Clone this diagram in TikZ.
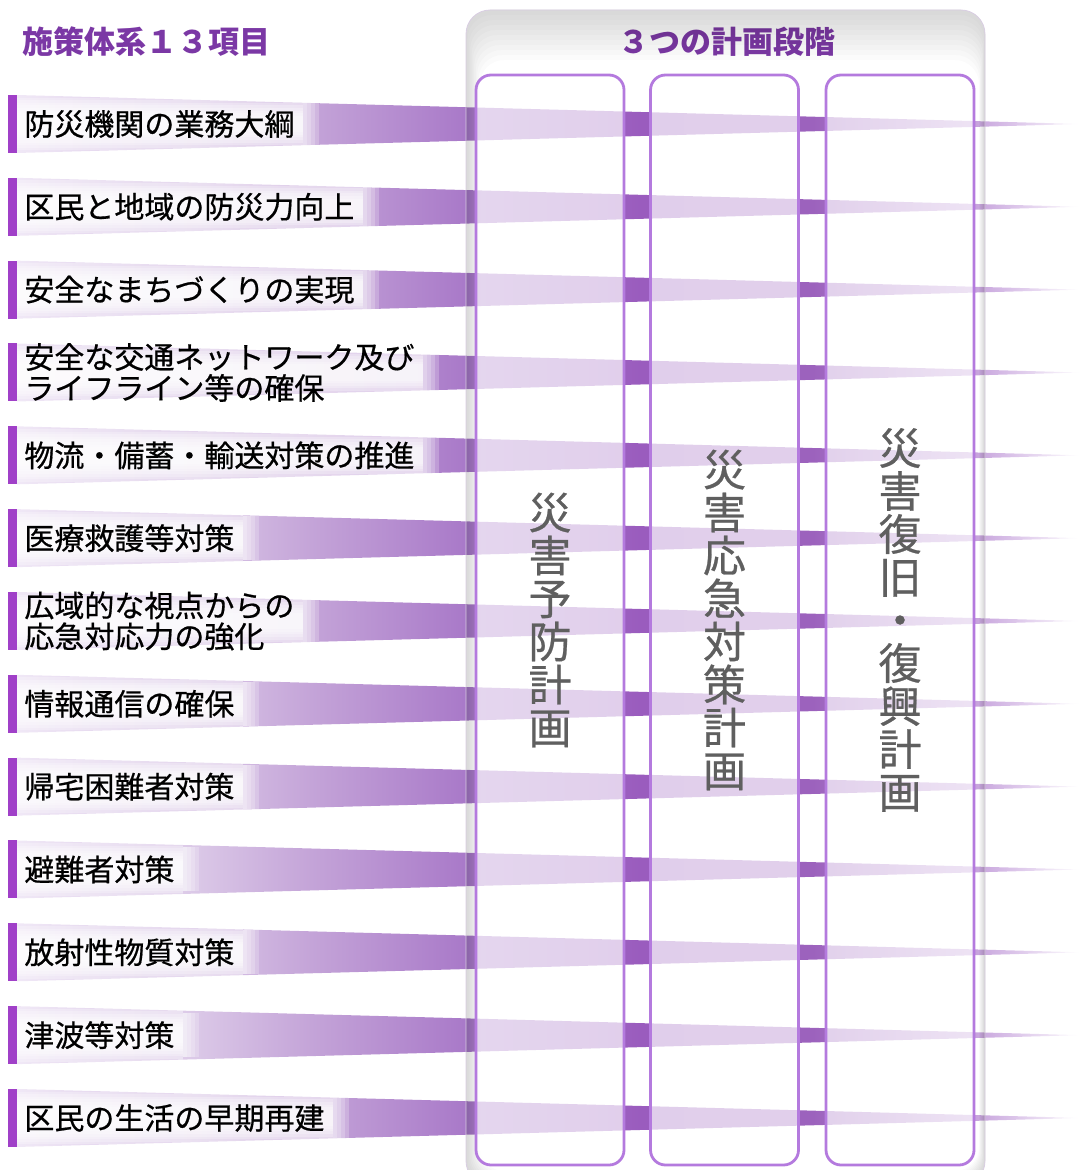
\documentclass[tikz,border=0pt]{standalone}
\usepackage{fontspec}
\setmainfont{Noto Sans CJK JP}
\newfontfamily\labelfont{Noto Sans CJK JP}[FakeBold=0.6]

\definecolor{titlepurple}{HTML}{7B38A5}
\definecolor{barpurple}{HTML}{A040C8}
\definecolor{colline}{HTML}{B47ADE}
\definecolor{panelline}{HTML}{D9CDE2}
\definecolor{vgray}{HTML}{5F5F5F}
\definecolor{bandA}{HTML}{F0E8F6}
\definecolor{bandA2}{HTML}{DCCAE8}
\definecolor{bandA3}{HTML}{C4A4D8}
\definecolor{bandB}{HTML}{A878C8}
\definecolor{bandC}{HTML}{9A5CBE}
\definecolor{bandD}{HTML}{9C62BD}
\definecolor{bandE}{HTML}{C6A2DC}

% x positions 17..1081 mapped on 25bp..75bp
\pgfdeclarehorizontalshading{bandshade}{100bp}{color(0bp)=(bandA); color(25bp)=(bandA);
  color(33.1bp)=(bandA2); color(38.8bp)=(bandA3); color(46.3bp)=(bandB);
  color(54.3bp)=(bandC); color(62.4bp)=(bandD); color(70bp)=(bandE);
  color(75bp)=(white); color(100bp)=(white)}

\pgfdeclarelayer{bands}
\pgfdeclarelayer{glow}
\pgfsetlayers{bands,glow,main}

\tikzset{
  titletext/.style={font=\bfseries\fontsize{15.5}{16}\selectfont, text=titlepurple, inner sep=0pt},
  itembar/.style={fill=barpurple},
  itemlabel/.style={anchor=west, align=left, inner sep=0pt, font=\labelfont\fontsize{15}{15.5}\selectfont},
  glowstrip/.style={fill=white, fill opacity=0.26},
  phasebox/.style={draw=colline, line width=1.4pt, rounded corners=7.5pt, fill=white,
    fill opacity=0.7, text opacity=1, text=vgray, align=center, inner sep=0pt,
    minimum width=74pt, minimum height=545pt, font=\labelfont\fontsize{21.5}{21.5}\selectfont},
}

\begin{document}
\begin{tikzpicture}[x=0.5pt, y=-0.5pt]
\useasboundingbox (0,0) rectangle (1081,1170);

% titles
\node[titletext, anchor=west] (systitle) at (22,42) {施策体系１３項目};
\node[titletext] (phasetitle) at (727,42) {３つの計画段階};

% the 13 items and their bands
\foreach \i/\txt in {1/防災機関の業務大綱, 2/区民と地域の防災力向上,
    3/安全なまちづくりの実現, 4/{安全な交通ネットワーク及び\\ライフライン等の確保},
    5/物流・備蓄・輸送対策の推進, 6/医療救護等対策,
    7/{広域的な視点からの\\応急対応力の強化}, 8/情報通信の確保,
    9/帰宅困難者対策, 10/避難者対策, 11/放射性物質対策,
    12/津波等対策, 13/区民の生活の早期再建}{
  \pgfmathsetmacro{\yc}{124+82.83*(\i-1)}
  \begin{pgfonlayer}{bands}
    \shade[shading=bandshade] (17,\yc-29) -- (1081,\yc) -- (17,\yc+29) -- cycle;
  \end{pgfonlayer}
  \fill[itembar] (8,\yc-29) rectangle (17,\yc+29);
  \node[itemlabel] (item\i) at (24,\yc) {\txt};
  \coordinate (gend\i) at ([xshift=4pt]item\i.east);
  \begin{pgfonlayer}{glow}
    \foreach \k in {1,...,8}{
      \coordinate (gbot) at (0,\yc+29-2.6*\k);
      \fill[glowstrip] (17,\yc-29+2.6*\k) rectangle (gend\i |- gbot);
    }
    % soft right edge
    \foreach \j in {1,...,4}{
      \coordinate (gtop) at ([xshift=\j*2pt]gend\i |- 0,\yc-22);
      \coordinate (gbot) at (0,\yc+22);
      \fill[white, fill opacity=0.22] (gend\i |- gtop) rectangle (gtop |- gbot);
    }
  \end{pgfonlayer}
}

% panel
\foreach \k in {1,...,10}
  \fill[black, fill opacity=0.016, even odd rule, rounded corners=12pt]
    (466,10) rectangle (985,1185) (466+1.4*\k,10+5*\k) rectangle (985-0.6*\k,1185-1.4*\k);
\draw[panelline, rounded corners=12pt] (466,10) rectangle (985,1185);

% the three phases
\node[phasebox] (prevention) at (550,620) {災\\害\\予\\防\\計\\画};
\node[phasebox] (response) at (724.5,620) {災\\害\\応\\急\\対\\策\\計\\画};
\node[phasebox] (recovery) at (900,620) {災\\害\\復\\旧\\・\\復\\興\\計\\画};
\end{tikzpicture}
\end{document}
